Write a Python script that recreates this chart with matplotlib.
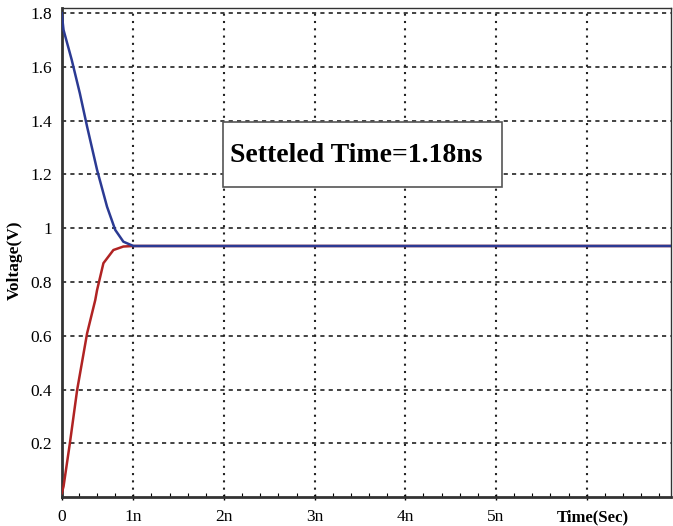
import matplotlib.pyplot as plt
import numpy as np
from matplotlib.ticker import MultipleLocator
from matplotlib.patches import Rectangle

# time in ns, voltage in V
t_blue = [0.21, 0.23, 0.32, 0.41, 0.49, 0.60, 0.71, 0.80, 0.89, 1.0, 7.0]
v_blue = [1.80, 1.738, 1.627, 1.502, 1.378, 1.217, 1.08, 0.994, 0.950, 0.934, 0.934]
t_red = [0.21, 0.23, 0.30, 0.38, 0.49, 0.58, 0.60, 0.67, 0.78, 0.89, 1.0, 7.0]
v_red = [0.014, 0.039, 0.20, 0.398, 0.609, 0.733, 0.77, 0.87, 0.919, 0.932, 0.934, 0.934]

x_ticks = [0.21, 1, 2, 3, 4, 5, 6]
x_labels = ["0", "1n", "2n", "3n", "4n", "5n", ""]
y_ticks = [0.2, 0.4, 0.6, 0.8, 1.0, 1.2, 1.4, 1.6, 1.8]
y_labels = ["0.2", "0.4", "0.6", "0.8", "1", "1.2", "1.4", "1.6", "1.8"]
x_title = "Time(Sec)"
note = "Setteled Time=1.18ns"

plt.rcParams["font.family"] = ["Liberation Serif", "DejaVu Serif"]

fig = plt.figure(figsize=(6.73, 5.26), dpi=100)
ax = fig.add_axes([0.0917, 0.0551, 0.9053, 0.9297])

ax.plot(t_red, v_red, color="#b02323", linewidth=1.8, zorder=3)
ax.plot(t_blue, v_blue, color="#2b3a93", linewidth=1.8, zorder=3)

ax.set_xlim(0.21, 6.93)
ax.set_ylim(0, 1.8195)

# grid lines
for y in y_ticks:
    ax.axhline(y, color="#222222", linewidth=1.2, linestyle=(0, (2.5, 2.5)), zorder=1)
for x in x_ticks[1:]:
    ax.axvline(x, color="#222222", linewidth=1.5, linestyle=(0, (1, 2.5)), zorder=1)

ax.set_xticks(x_ticks)
ax.set_xticklabels(x_labels, fontsize=12.5)
ax.xaxis.set_minor_locator(MultipleLocator(0.2))
ax.tick_params(axis="x", which="major", direction="inout", length=5, width=1, pad=6)
ax.tick_params(axis="x", which="minor", direction="in", length=3, width=0.8)
# axis title sits where the 6n label would be
ax.text(6.07, -0.025, x_title, transform=ax.get_xaxis_transform(), fontsize=12,
        fontweight="bold", ha="center", va="top")

ax.set_yticks(y_ticks)
ax.set_yticklabels(y_labels, fontsize=12.5)
ax.tick_params(axis="y", length=0, pad=7)

ax.set_ylabel("Voltage(V)", fontsize=12.5, fontweight="bold")
ax.yaxis.set_label_coords(-0.064, 0.485)

for side in ["left", "bottom"]:
    ax.spines[side].set_linewidth(2)
    ax.spines[side].set_color("#333333")
for side in ["top", "right"]:
    ax.spines[side].set_linewidth(1)
    ax.spines[side].set_color("#333333")

# annotation box
ax.add_patch(Rectangle((1.99, 1.154), 3.08, 0.241, facecolor="white",
                       edgecolor="#555555", linewidth=1.2, zorder=4))
ax.text(2.07, 1.27, note, fontsize=20, fontweight="bold", ha="left", va="center",
        zorder=5)

fig.savefig("out.png", dpi=100)
